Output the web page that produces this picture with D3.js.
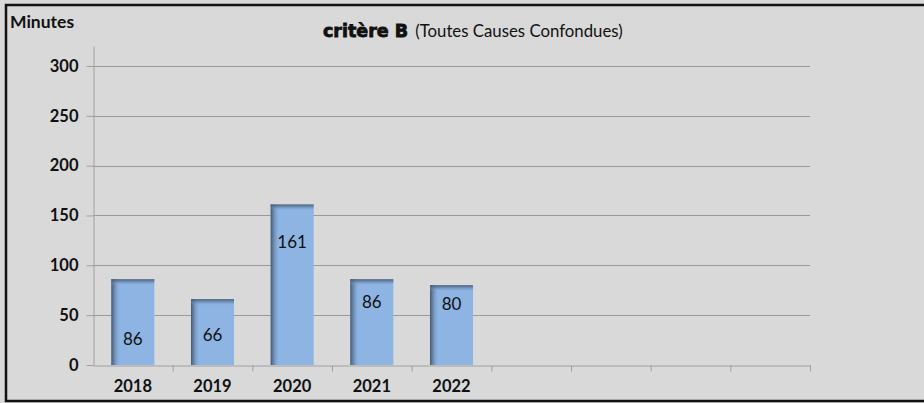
<!DOCTYPE html>
<html>
<head>
<meta charset="utf-8">
<script src="https://cdn.jsdelivr.net/npm/d3@7"></script>
<style>
  html, body { margin: 0; padding: 0; background: #d9d9d9; }
  svg { display: block; }
  .tick text { font-family: Lato, "Open Sans", sans-serif; }
</style>
</head>
<body>
<svg id="chart" width="924" height="403"></svg>
<script>
// chart data
const years = ['2018', '2019', '2020', '2021', '2022'];
const minutes = [86, 66, 161, 86, 80];
// where each data label sits, in minutes (labels were moved by hand in the source)
const labelLevels = [26, 30, 123, 63, 61];
const slotCount = 9; // axis keeps room for 4 more years
const yTicks = [0, 50, 100, 150, 200, 250, 300];

const svg = d3.select('#chart');
const W = 924, H = 403;
const plot = { left: 93, right: 810, top: 46, bottom: 365 };
const labelFont = 'Lato, "Open Sans", sans-serif';

// background + frame (right edge of the frame falls outside the picture)
svg.append('rect')
  .attr('width', W).attr('height', H)
  .attr('fill', '#d9d9d9');
svg.append('rect')
  .attr('x', 6).attr('y', 5)
  .attr('width', W + 20).attr('height', 396)
  .attr('fill', 'none')
  .attr('stroke', '#111')
  .attr('stroke-width', 2.5);

const x = d3.scaleBand()
  .domain(d3.range(slotCount))
  .range([plot.left, plot.right])
  .paddingInner(0.46)
  .paddingOuter(0.23);

const y = d3.scaleLinear()
  .domain([0, 320])
  .range([plot.bottom, plot.top]);

// gradients for the bevelled bar look
const defs = svg.append('defs');
const leftShade = defs.append('linearGradient')
  .attr('id', 'leftShade').attr('x1', 0).attr('x2', 1).attr('y1', 0).attr('y2', 0);
leftShade.append('stop').attr('offset', '0%').attr('stop-color', '#3f536b').attr('stop-opacity', 0.95);
leftShade.append('stop').attr('offset', '40%').attr('stop-color', '#5b769a').attr('stop-opacity', 0.6);
leftShade.append('stop').attr('offset', '100%').attr('stop-color', '#8db3e2').attr('stop-opacity', 0);

const topShade = defs.append('linearGradient')
  .attr('id', 'topShade').attr('x1', 0).attr('x2', 0).attr('y1', 0).attr('y2', 1);
topShade.append('stop').attr('offset', '0%').attr('stop-color', '#3f536b').attr('stop-opacity', 0.9);
topShade.append('stop').attr('offset', '60%').attr('stop-color', '#6a86ab').attr('stop-opacity', 0.45);
topShade.append('stop').attr('offset', '100%').attr('stop-color', '#8db3e2').attr('stop-opacity', 0);

// gridlines
svg.append('g')
  .selectAll('line')
  .data(yTicks.filter(d => d > 0))
  .join('line')
  .attr('x1', plot.left).attr('x2', plot.right)
  .attr('y1', d => Math.round(y(d)) + 0.5)
  .attr('y2', d => Math.round(y(d)) + 0.5)
  .attr('stroke', '#999')
  .attr('stroke-width', 1);

// bars
const bars = svg.append('g')
  .selectAll('g')
  .data(minutes)
  .join('g');

bars.append('rect')
  .attr('x', (d, i) => x(i))
  .attr('y', d => y(d))
  .attr('width', x.bandwidth())
  .attr('height', d => y(0) - y(d))
  .attr('fill', '#8db4e2');

bars.append('rect')
  .attr('x', (d, i) => x(i))
  .attr('y', d => y(d))
  .attr('width', 9)
  .attr('height', d => y(0) - y(d))
  .attr('fill', 'url(#leftShade)');

bars.append('rect')
  .attr('x', (d, i) => x(i))
  .attr('y', d => y(d))
  .attr('width', x.bandwidth())
  .attr('height', 6)
  .attr('fill', 'url(#topShade)');

// data labels
bars.append('text')
  .attr('x', (d, i) => x(i) + x.bandwidth() / 2)
  .attr('y', (d, i) => y(labelLevels[i]))
  .attr('dy', '0.35em')
  .attr('text-anchor', 'middle')
  .attr('font-family', labelFont)
  .attr('font-size', 17)
  .attr('fill', '#111')
  .text(d => d);

// y axis
const yAxis = svg.append('g')
  .attr('transform', `translate(${plot.left + 0.5},0)`)
  .call(d3.axisLeft(y).tickValues(yTicks).tickSize(7).tickPadding(8).tickSizeOuter(0));
yAxis.select('.domain').attr('stroke', '#a0a0a0');
yAxis.selectAll('.tick line').attr('stroke', '#a0a0a0');
yAxis.selectAll('.tick text')
  .attr('font-size', 16.5)
  .attr('font-weight', 'bold')
  .attr('fill', '#111');

// x axis: ticks on slot boundaries, labels in the middle of the slots
const xEdges = d3.scaleLinear().domain([0, slotCount]).range([plot.left, plot.right]);
const xAxis = svg.append('g')
  .attr('transform', `translate(0,${plot.bottom + 0.5})`)
  .call(d3.axisBottom(xEdges).tickValues(d3.range(1, slotCount + 1))
    .tickSize(6).tickSizeOuter(0).tickFormat(''));
xAxis.select('.domain').attr('stroke', '#a0a0a0');
xAxis.selectAll('.tick line').attr('stroke', '#a0a0a0');

svg.append('g')
  .selectAll('text')
  .data(years)
  .join('text')
  .attr('x', (d, i) => x(i) + x.bandwidth() / 2)
  .attr('y', 386)
  .attr('dy', '0.35em')
  .attr('text-anchor', 'middle')
  .attr('font-family', labelFont)
  .attr('font-size', 16.5)
  .attr('font-weight', 'bold')
  .attr('fill', '#111')
  .text(d => d);

// axis title
svg.append('text')
  .attr('x', 10).attr('y', 28)
  .attr('font-family', labelFont)
  .attr('font-size', 17.5)
  .attr('font-weight', 'bold')
  .attr('fill', '#111')
  .text('Minutes');

// chart title
const title = svg.append('text')
  .attr('x', 323).attr('y', 37)
  .attr('fill', '#111');
title.append('tspan')
  .attr('font-family', '"DejaVu Sans", sans-serif')
  .attr('font-weight', 'bold')
  .attr('font-size', 17.5)
  .attr('stroke', '#111')
  .attr('stroke-width', 0.8)
  .text('critère B');
title.append('tspan')
  .attr('dx', 7)
  .attr('font-family', labelFont)
  .attr('font-size', 16.8)
  .text('(Toutes Causes Confondues)');
</script>
</body>
</html>
